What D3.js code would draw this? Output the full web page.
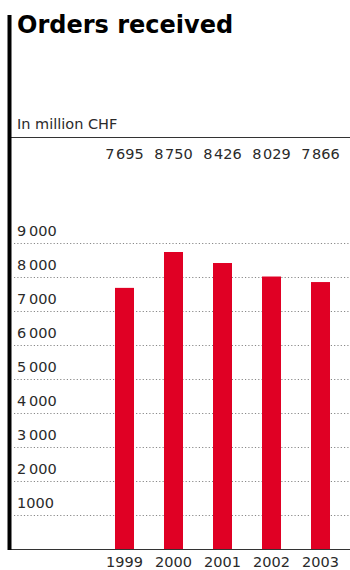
<!DOCTYPE html>
<html>
<head>
<meta charset="utf-8">
<script src="https://cdn.jsdelivr.net/npm/d3@7"></script>
<style>
  html, body { margin: 0; padding: 0; background: #fff; }
  svg { display: block; }
  text { font-family: "DejaVu Sans", sans-serif; }
</style>
</head>
<body>
<svg id="chart" width="350" height="570"></svg>
<script>
// Orders received, in million CHF
const years = ["1999", "2000", "2001", "2002", "2003"];
const orders = [7695, 8750, 8426, 8029, 7866];
const tickValues = [1000, 2000, 3000, 4000, 5000, 6000, 7000, 8000, 9000];
const tickLabels = ["1000", "2\u2009000", "3\u2009000", "4\u2009000", "5\u2009000",
                    "6\u2009000", "7\u2009000", "8\u2009000", "9\u2009000"];

const W = 350, H = 570;
const svg = d3.select("#chart");

const y = d3.scaleLinear().domain([0, 9000]).range([549.5, 243.5]);
const x = d3.scaleBand().domain(years).range([100, 345])
  .paddingInner(30 / 49).paddingOuter(0.306);

const textColor = "#2a2a2a";
const red = "#e00024";

// value labels use a hair space as thousands separator
const fmtValue = v => {
  const s = String(v);
  return s.length > 3 ? s.slice(0, -3) + "\u200A" + s.slice(-3) : s;
};

// Title
svg.append("text")
  .attr("x", 17).attr("y", 33)
  .attr("font-size", 24).attr("font-weight", "bold")
  .attr("fill", "#000")
  .text("Orders received");

// Unit
svg.append("text")
  .attr("x", 17).attr("y", 129)
  .attr("font-size", 14.5).attr("fill", textColor)
  .text("In million CHF");

// Rule under the unit line
svg.append("line")
  .attr("x1", 11).attr("x2", W)
  .attr("y1", 137.5).attr("y2", 137.5)
  .attr("stroke", "#333").attr("stroke-width", 1);

// Dotted gridlines with labels
const grid = svg.append("g");
grid.selectAll("line").data(tickValues).join("line")
  .attr("x1", 14).attr("x2", W)
  .attr("y1", d => y(d)).attr("y2", d => y(d))
  .attr("stroke", "#888").attr("stroke-width", 1)
  .attr("stroke-dasharray", "1.2,2.1");
grid.selectAll("text").data(tickValues).join("text")
  .attr("x", 17).attr("y", d => y(d) - 7.5)
  .attr("font-size", 14.5).attr("fill", textColor)
  .text((d, i) => tickLabels[i]);

// Bars
svg.append("g").selectAll("rect").data(orders).join("rect")
  .attr("x", (d, i) => x(years[i]))
  .attr("width", x.bandwidth())
  .attr("y", d => y(d))
  .attr("height", d => y(0) - y(d))
  .attr("fill", red);

// Values row
svg.append("g").selectAll("text").data(orders).join("text")
  .attr("x", (d, i) => x(years[i]) + x.bandwidth() / 2)
  .attr("y", 159)
  .attr("text-anchor", "middle")
  .attr("font-size", 14.5).attr("fill", textColor)
  .text(d => fmtValue(d));

// Baseline
svg.append("line")
  .attr("x1", 11).attr("x2", W)
  .attr("y1", y(0)).attr("y2", y(0))
  .attr("stroke", "#333").attr("stroke-width", 1);

// Year axis labels
const xAxis = d3.axisBottom(x).tickSize(0).tickPadding(0);
const gx = svg.append("g").call(xAxis);
gx.select(".domain").remove();
gx.selectAll("text")
  .attr("y", 567).attr("dy", null)
  .attr("font-family", "DejaVu Sans, sans-serif")
  .attr("font-size", 14.5).attr("fill", textColor);

// Heavy left rule
svg.append("rect")
  .attr("x", 7.5).attr("y", 15)
  .attr("width", 4).attr("height", 535)
  .attr("fill", "#000");
</script>
</body>
</html>
